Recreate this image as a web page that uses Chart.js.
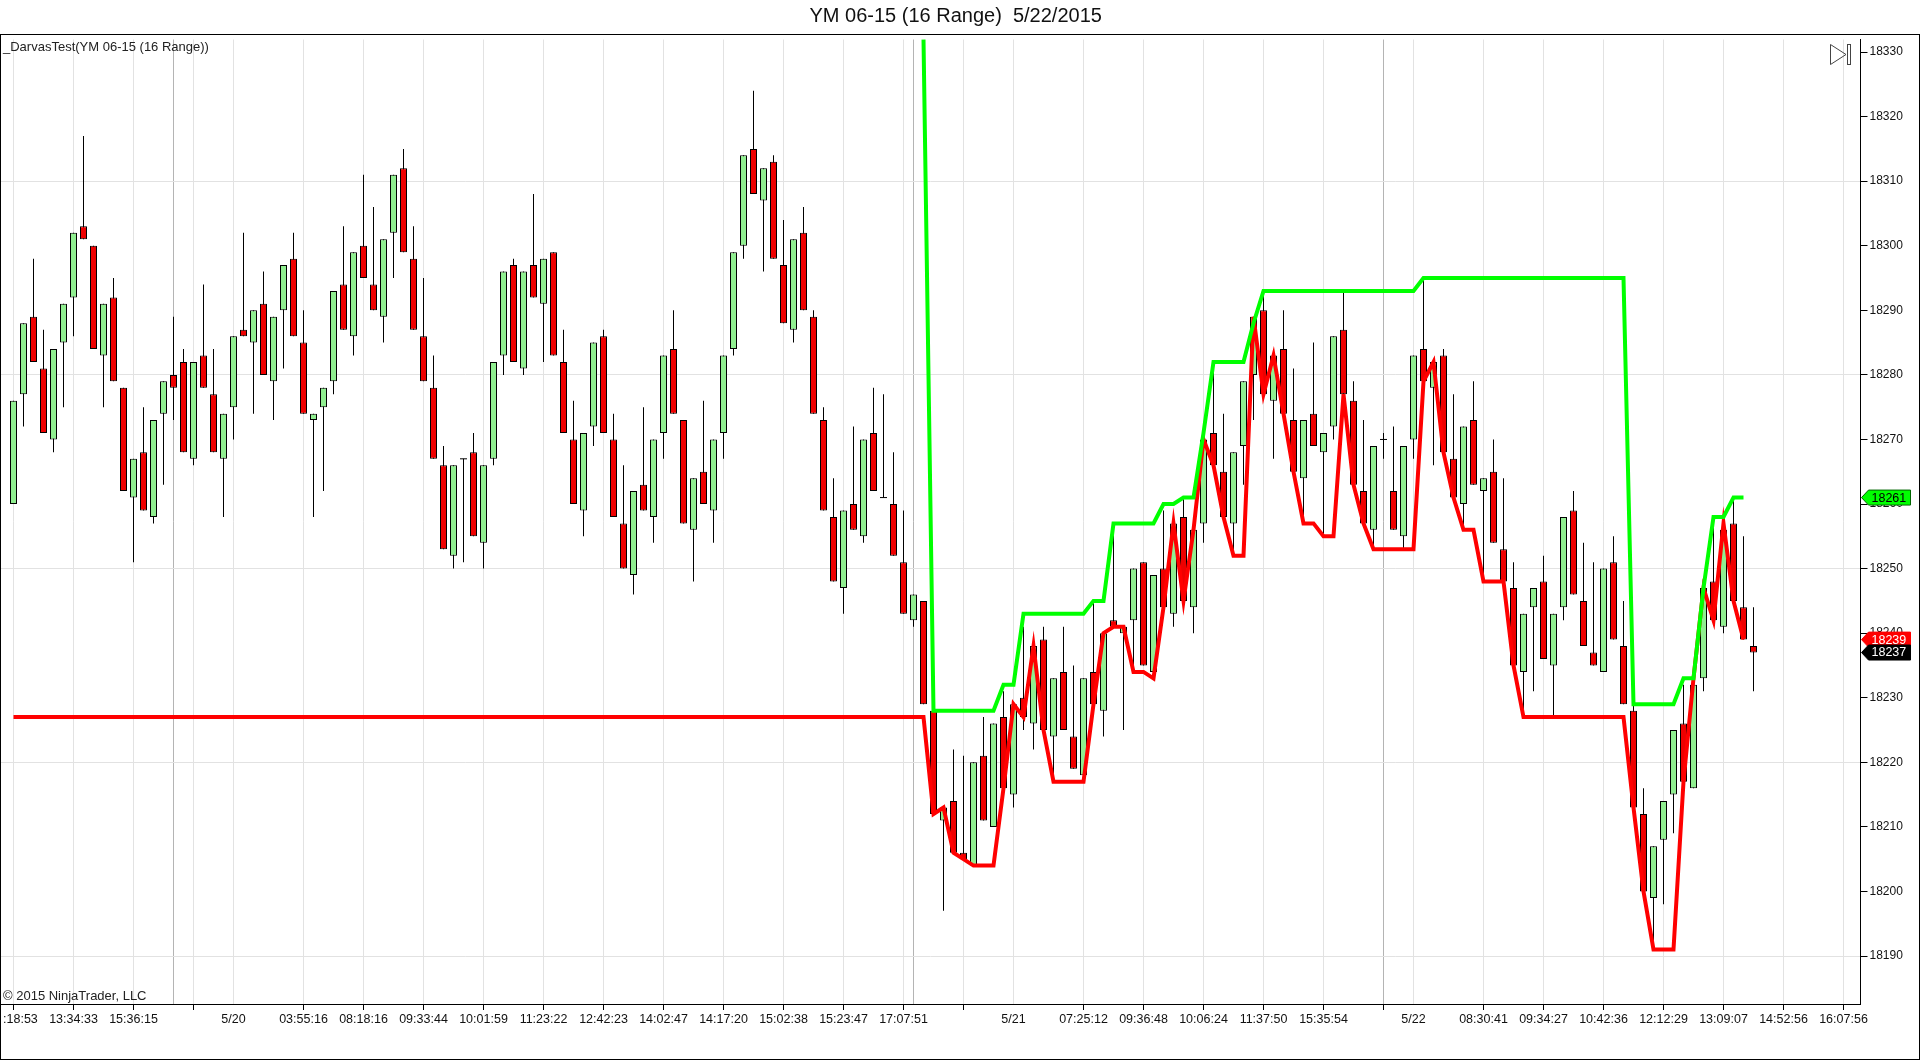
<!DOCTYPE html>
<html>
<head>
<meta charset="utf-8">
<title>YM 06-15 (16 Range) 5/22/2015</title>
<script src="https://cdn.jsdelivr.net/npm/chart.js@4"></script>
<style>html,body{margin:0;padding:0;background:#fff}canvas{display:block}</style>
</head>
<body>
<canvas id="c" width="1920" height="1060"></canvas>
<script>
const opens=[18260,18277,18289,18281,18270,18285,18292,18303,18300,18283,18292,18278,18261,18268,18258,18274,18280,18282,18267,18283,18277,18267,18275,18287,18285,18291,18279,18290,18298,18285,18273,18275,18279,18294,18286,18300,18294,18289,18302,18312,18298,18286,18278,18266,18252,18267,18268,18254,18267,18283,18297,18281,18297,18291,18299,18282,18270,18259,18272,18286,18270,18257,18249,18263,18258,18271,18284,18273,18256,18265,18259,18271,18284,18300,18315,18307,18313,18297,18287,18302,18289,18273,18258,18247,18260,18255,18271,18261,18260,18251,18242,18245,18228,18211,18214,18206,18204,18221,18210,18227,18215,18230,18226,18239,18224,18234,18224,18218,18234,18228,18242,18240,18242,18251,18234,18250,18243,18258,18244,18257,18271,18265,18257,18269,18280,18290,18276,18284,18273,18264,18274,18268,18272,18287,18276,18262,18256,18270,18262,18255,18270,18284,18278,18283,18267,18260,18273,18262,18265,18253,18247,18234,18244,18248,18235,18244,18259,18245,18237,18234,18251,18238,18228,18212,18199,18208,18215,18226,18216,18233,18248,18241,18257,18244,18238];
const closes=[18276,18288,18282,18271,18284,18291,18302,18301,18284,18291,18279,18262,18267,18259,18273,18279,18278,18268,18282,18278,18268,18274,18286,18286,18290,18280,18289,18297,18286,18274,18274,18278,18293,18287,18299,18295,18290,18301,18311,18299,18287,18279,18267,18253,18266,18267,18255,18266,18282,18296,18282,18296,18292,18298,18283,18271,18260,18271,18285,18271,18258,18250,18262,18259,18270,18283,18274,18257,18264,18260,18270,18283,18299,18314,18308,18312,18298,18288,18301,18290,18274,18259,18248,18259,18256,18270,18262,18261,18252,18243,18246,18229,18212,18213,18206,18205,18220,18211,18226,18216,18229,18227,18238,18225,18233,18225,18219,18233,18229,18240,18241,18241,18250,18235,18249,18244,18257,18245,18256,18270,18266,18258,18268,18279,18289,18277,18283,18274,18265,18273,18269,18271,18286,18277,18263,18257,18269,18270,18256,18269,18283,18279,18282,18268,18261,18272,18263,18264,18254,18248,18235,18243,18247,18236,18243,18258,18246,18238,18235,18250,18239,18229,18213,18200,18207,18214,18225,18217,18232,18247,18242,18256,18245,18239,18237];
const highs=[18276,18288,18298,18287,18284,18291,18302,18317,18300,18291,18295,18278,18267,18275,18273,18279,18289,18284,18282,18294,18284,18274,18286,18302,18290,18296,18289,18297,18302,18290,18274,18278,18293,18303,18299,18311,18306,18301,18311,18315,18303,18295,18283,18269,18266,18267,18271,18266,18282,18296,18298,18296,18308,18298,18299,18287,18276,18271,18285,18287,18274,18266,18262,18275,18270,18283,18290,18273,18264,18276,18270,18283,18299,18314,18324,18312,18314,18304,18301,18306,18290,18275,18264,18259,18272,18270,18278,18277,18268,18259,18246,18245,18228,18213,18222,18221,18220,18227,18226,18231,18229,18241,18238,18241,18233,18241,18235,18233,18245,18240,18257,18241,18250,18251,18249,18259,18257,18261,18256,18270,18282,18274,18268,18279,18289,18293,18283,18290,18281,18273,18285,18271,18286,18293,18279,18273,18269,18271,18272,18269,18283,18295,18282,18284,18277,18272,18279,18264,18270,18264,18251,18243,18247,18252,18243,18258,18262,18254,18251,18250,18255,18245,18229,18216,18207,18214,18225,18232,18232,18247,18258,18256,18261,18255,18244];
const lows=[18260,18272,18282,18271,18268,18275,18286,18301,18284,18275,18279,18262,18251,18259,18257,18263,18273,18268,18266,18278,18268,18258,18270,18286,18274,18280,18273,18281,18286,18274,18258,18262,18277,18287,18283,18295,18290,18285,18295,18299,18287,18279,18267,18253,18250,18251,18255,18250,18266,18280,18282,18280,18292,18282,18283,18271,18260,18255,18269,18271,18258,18250,18246,18259,18254,18267,18274,18257,18248,18260,18254,18267,18283,18298,18308,18296,18298,18288,18285,18290,18274,18259,18248,18243,18256,18254,18262,18261,18252,18243,18241,18229,18212,18197,18206,18205,18204,18211,18210,18216,18213,18225,18222,18225,18217,18225,18219,18217,18229,18224,18241,18225,18234,18235,18233,18244,18241,18245,18240,18254,18266,18258,18252,18263,18273,18277,18267,18274,18265,18257,18269,18255,18270,18277,18263,18257,18253,18267,18256,18253,18267,18279,18266,18268,18261,18256,18263,18248,18254,18248,18235,18227,18231,18236,18227,18242,18246,18238,18235,18234,18239,18229,18213,18200,18191,18198,18209,18217,18216,18231,18242,18240,18245,18239,18231];
const upperStart=91;
const upperBox=[18332,18228,18228,18228,18228,18228,18228,18228,18232,18232,18243,18243,18243,18243,18243,18243,18243,18245,18245,18257,18257,18257,18257,18257,18260,18260,18261,18261,18271,18282,18282,18282,18282,18288,18293,18293,18293,18293,18293,18293,18293,18293,18293,18293,18293,18293,18293,18293,18293,18293,18295,18295,18295,18295,18295,18295,18295,18295,18295,18295,18295,18295,18295,18295,18295,18295,18295,18295,18295,18295,18295,18229,18229,18229,18229,18229,18233,18233,18247,18258,18258,18261,18261];
const lowerBox=[18227,18227,18227,18227,18227,18227,18227,18227,18227,18227,18227,18227,18227,18227,18227,18227,18227,18227,18227,18227,18227,18227,18227,18227,18227,18227,18227,18227,18227,18227,18227,18227,18227,18227,18227,18227,18227,18227,18227,18227,18227,18227,18227,18227,18227,18227,18227,18227,18227,18227,18227,18227,18227,18227,18227,18227,18227,18227,18227,18227,18227,18227,18227,18227,18227,18227,18227,18227,18227,18227,18227,18227,18227,18227,18227,18227,18227,18227,18227,18227,18227,18227,18227,18227,18227,18227,18227,18227,18227,18227,18227,18227,18212,18213,18206,18205,18204,18204,18204,18216,18229,18227,18238,18225,18217,18217,18217,18217,18229,18240,18241,18241,18234,18234,18233,18244,18257,18245,18256,18270,18266,18258,18252,18252,18289,18277,18283,18274,18265,18257,18257,18255,18255,18277,18263,18257,18253,18253,18253,18253,18253,18279,18282,18268,18261,18256,18256,18248,18248,18248,18235,18227,18227,18227,18227,18227,18227,18227,18227,18227,18227,18227,18213,18200,18191,18191,18191,18217,18233,18247,18242,18257,18245,18239];
const xTickIndex=[0,6,12,16,18,22,29,35,41,47,53,59,65,71,77,83,89,90,95,100,107,113,119,125,131,137,140,147,153,159,165,171,177,183];
const xTickLabels=['\u00a0\u00a0\u00a0\u00a0:18:53','13:34:33','15:36:15','','','5/20','03:55:16','08:18:16','09:33:44','10:01:59','11:23:22','12:42:23','14:02:47','14:17:20','15:02:38','15:23:47','17:07:51','','','5/21','07:25:12','09:36:48','10:06:24','11:37:50','15:35:54','','5/22','08:30:41','09:34:27','10:42:36','12:12:29','13:09:07','14:52:56','16:07:56'];
const sessionBreaks=[16,90,137];
const dateTicks=[22,100,140];
const unmarkedTicks=[16,90];
const yTicks=[18190,18200,18210,18220,18230,18240,18250,18260,18270,18280,18290,18300,18310,18320,18330];
const yGridEvery=[18190,18220,18250,18280,18310];
const lastUpper=18261, lastLower=18239, lastClose=18237;
const chartTitle='YM 06-15 (16 Range)  5/22/2015';
const indicatorLabel='_DarvasTest(YM 06-15 (16 Range))';
const copyright='\u00a9 2015 NinjaTrader, LLC';

const FONT='"Liberation Sans", Arial, sans-serif';
const GREEN='#90EE90', RED='#EE0000';

const wicks=highs.map((h,i)=>({x:i,y:[lows[i],h]}));
const bodies=opens.map((o,i)=>({x:i,y:[o,closes[i]]})).filter(d=>d.y[0]!==d.y[1]);
const dojis=opens.map((o,i)=>({x:i,y:o,same:o===closes[i]})).filter(d=>d.same);
const upperPts=upperBox.map((v,i)=>({x:i+upperStart,y:v}));
const lowerPts=lowerBox.map((v,i)=>({x:i,y:v}));

function flag(ctx,y,value,fill,stroke,text){
  const l=1861.5,r=1910.5,t=y-7.5,b=y+7.5,n=l+7;
  ctx.beginPath();
  ctx.moveTo(l,y);ctx.lineTo(n,t);ctx.lineTo(r,t);ctx.lineTo(r,b);ctx.lineTo(n,b);ctx.closePath();
  ctx.fillStyle=fill;ctx.fill();
  ctx.strokeStyle=stroke;ctx.lineWidth=1;ctx.stroke();
  ctx.fillStyle=text;ctx.font='12.5px '+FONT;ctx.textAlign='left';ctx.textBaseline='middle';
  ctx.fillText(String(value),1871.5,y+0.5);
}
const decor={
  id:'decor',
  beforeDraw(chart){
    const c=chart.ctx;c.save();c.fillStyle='#fff';c.fillRect(0,0,1920,1060);c.restore();
  },
  afterDraw(chart){
    const c=chart.ctx,ys=chart.scales.y;
    c.save();
    c.strokeStyle='#000';c.lineWidth=1;
    c.strokeRect(0.5,34.5,1919,1025);
    c.fillStyle='#222';c.font='13px '+FONT;c.textAlign='left';c.textBaseline='middle';
    c.fillText(indicatorLabel,3,47.5);
    c.fillText(copyright,3,996);
    c.strokeStyle='#444';
    c.beginPath();c.moveTo(1830.5,44.5);c.lineTo(1846,54.5);c.lineTo(1830.5,64.5);c.closePath();c.stroke();
    c.strokeRect(1847.5,44.5,3,20);
    flag(c,ys.getPixelForValue(lastUpper),lastUpper,'#00FF00','#006600','#000');
    flag(c,ys.getPixelForValue(lastLower),lastLower,'#FF0000','#FF0000','#fff');
    flag(c,ys.getPixelForValue(lastClose),lastClose,'#000','#000','#fff');
    c.restore();
  }
};

new Chart(document.getElementById('c'),{
  type:'bar',
  data:{datasets:[
    {type:'line',label:'Lower',data:lowerPts,borderColor:'#FF0000',borderWidth:4,pointRadius:0,borderJoinStyle:'miter',borderCapStyle:'butt',tension:0,fill:false,order:1},
    {type:'line',label:'Upper',data:upperPts,borderColor:'#00FF00',borderWidth:4,pointRadius:0,borderJoinStyle:'miter',borderCapStyle:'butt',tension:0,fill:false,order:0},
    {type:'line',label:'Doji',data:dojis,showLine:false,pointStyle:'line',pointRadius:3.5,pointBorderColor:'#000',pointBorderWidth:1,order:3},
    {label:'Body',data:bodies,grouped:false,barThickness:7,borderWidth:1,borderColor:'#000',borderSkipped:false,inflateAmount:0,
      backgroundColor:bodies.map(d=>d.y[1]>d.y[0]?GREEN:RED),order:4},
    {label:'Wick',data:wicks,grouped:false,barThickness:1,borderWidth:0,inflateAmount:0,backgroundColor:'#000',order:5}
  ]},
  options:{
    responsive:false,animation:false,devicePixelRatio:1,
    layout:{autoPadding:false,padding:{left:1,right:9.6,top:0,bottom:0}},
    events:[],
    plugins:{
      legend:{display:false},tooltip:{enabled:false},
      title:{display:true,text:chartTitle,color:'#111',font:{family:FONT,size:20,weight:'normal',lineHeight:1.2},padding:{top:4,bottom:11.5}}
    },
    scales:{
      x:{type:'linear',min:-1.25,max:184.7,offset:false,
        grid:{offset:false,lineWidth:1,tickLength:6,
          color:ctx=>sessionBreaks.includes(ctx.tick&&ctx.tick.value)?'#b4b4b4':'#e2e2e2',
          tickColor:ctx=>{const v=ctx.tick&&ctx.tick.value;return (dateTicks.includes(v)||unmarkedTicks.includes(v))?'rgba(0,0,0,0)':'#000';}},
        border:{display:true,color:'#000',width:1},
        afterBuildTicks(s){s.ticks=xTickIndex.map(v=>({value:v}));},
        afterFit(s){s.height=56;s.paddingLeft=0;s.paddingRight=0;},
        ticks:{autoSkip:false,maxRotation:0,minRotation:0,padding:2,color:'#111',font:{family:FONT,size:12.5},
          callback:v=>{const k=xTickIndex.indexOf(v);return k<0?'':xTickLabels[k];}}
      },
      y:{type:'linear',position:'right',min:18182.57,max:18331.94,
        grid:{lineWidth:1,tickLength:7,
          color:ctx=>yGridEvery.includes(ctx.tick&&ctx.tick.value)?'#e2e2e2':'rgba(0,0,0,0)',
          tickColor:'#000'},
        border:{display:true,color:'#000',width:1},
        afterBuildTicks(s){s.ticks=yTicks.map(v=>({value:v}));},
        afterFit(s){s.width=49.9;s.paddingTop=0;s.paddingBottom=0;},
        ticks:{autoSkip:false,padding:2,color:'#111',font:{family:FONT,size:12},callback:v=>String(v)}
      }
    }
  },
  plugins:[decor]
});
</script>
</body>
</html>
